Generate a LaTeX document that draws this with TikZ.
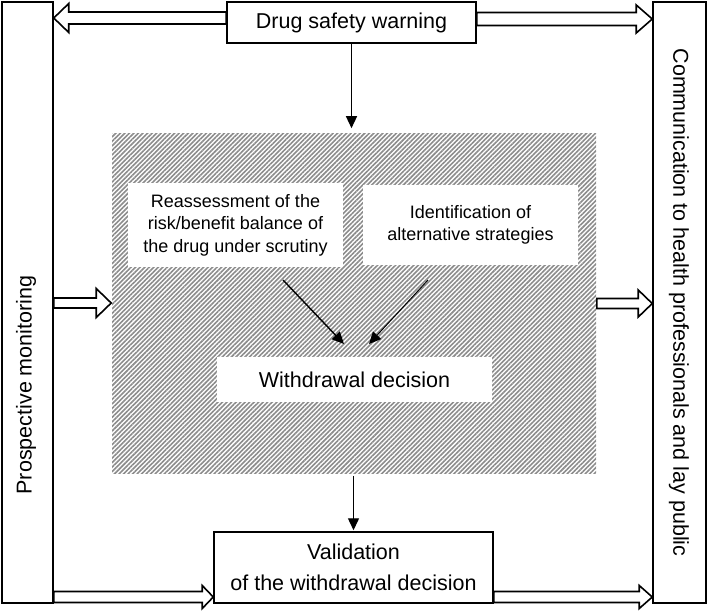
\documentclass[tikz,border=0pt]{standalone}
\usepackage{fontspec}
\setmainfont{Liberation Sans}
\usetikzlibrary{arrows.meta,patterns.meta,calc}
\newcommand\harrow[5]{\draw[hollow] let \p1=(#1), \p2=(#2) in
  (\x1,\y1+#3) -- ({\x2-(#5)},\y1+#3) -- ({\x2-(#5)},\y1+#4) -- (\x2,\y1)
  -- ({\x2-(#5)},\y1-#4) -- ({\x2-(#5)},\y1-#3) -- (\x1,\y1-#3) -- cycle;}
\begin{document}
\begin{tikzpicture}[x=1pt,y=-1pt,
  box/.style={draw, line width=1.5pt, fill=white, inner sep=0pt, align=center},
  big/.style={font=\fontsize{21.5}{31}\selectfont},
  small/.style={font=\fontsize{18}{22.5}\selectfont},
  wbox/.style={fill=white, inner sep=0pt, align=center},
  hollow/.style={draw, line width=1.6pt, fill=white, line join=miter},
  thinarrow/.style={-{Triangle[length=12pt,width=11pt]}, line width=1.4pt}]
\useasboundingbox (0,0) rectangle (708,611);
\fill[white] (0,0) rectangle (708,611);
% side boxes
\node[box, minimum width=51pt, minimum height=601pt] (L) at (27.5,302.5) {};
\node[big, rotate=90] (Lt) at (26,385) {Prospective monitoring};
\node[box, minimum width=53pt, minimum height=601pt] (R) at (679.5,302.5) {};
\node[big, rotate=-90] (Rt) at (679,302.5) {Communication to health professionals and lay public};
% top and bottom boxes
\node[box, big, minimum width=249pt, minimum height=41pt] (T) at (351.5,22.5) {Drug safety warning};
\node[box, big, minimum width=279pt, minimum height=71pt] (B) at (353.5,567.5) {Validation\\of the withdrawal decision};
% hatched area
\node[inner sep=0pt, minimum width=484pt, minimum height=340pt,
      pattern={Lines[angle=45,distance=3.2pt,line width=1.6pt]}, pattern color=black!45] (H) at (354,303) {};
\node[wbox, small, minimum width=215pt, minimum height=84pt] (RA) at (235.5,225) {Reassessment of the\\risk/benefit balance of\\the drug under scrutiny};
\node[wbox, small, minimum width=215pt, minimum height=80pt] (ID) at (470.5,225) {Identification of\\alternative strategies};
\node[wbox, big, minimum width=275pt, minimum height=45pt] (W) at (354.5,379.5) {Withdrawal decision};
% arrows
\coordinate (a1) at (283,280);
\coordinate (a2) at (344,344);
\coordinate (b1) at (428,280);
\coordinate (b2) at (369,344);
\draw[thinarrow] (a1) -- (a2);
\draw[thinarrow, line width=1pt] (b1) -- (b2);
\draw[thinarrow, shorten >=4pt] (T.south) -- (T.south |- H.north);
\draw[thinarrow, shorten <=2pt, shorten >=1pt] (B.north |- H.south) -- (B.north);
% hollow arrows
\harrow{$(T.west)+(0,-4.5)$}{L.east}{6pt}{14.5pt}{-15pt}
\harrow{$(T.east)+(0,-3.5)$}{R.west}{6.5pt}{14pt}{16pt}
\harrow{$(L.east)+(0,0.5)$}{H.west}{5pt}{14.5pt}{15pt}
\harrow{$(H.east)+(0,0.5)$}{R.west}{5pt}{13.5pt}{14pt}
\harrow{$(L.east)+(0,294.5)$}{B.west}{5.5pt}{11.5pt}{11pt}
\harrow{$(B.east)+(0,29.5)$}{R.west}{5.5pt}{11.5pt}{13pt}
\end{tikzpicture}
\end{document}
